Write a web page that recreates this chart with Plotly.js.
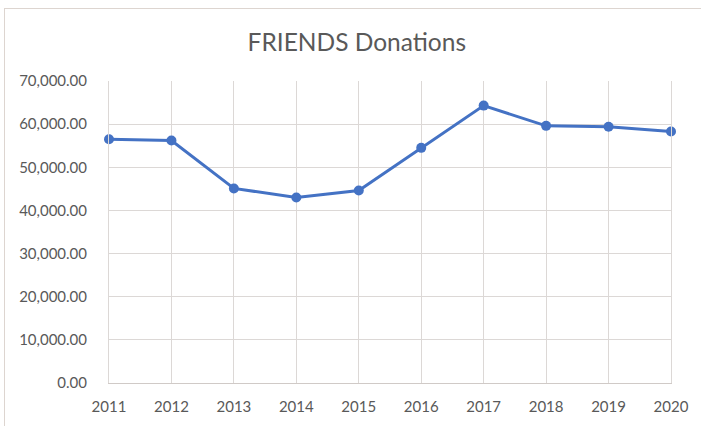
<!DOCTYPE html>
<html>
<head>
<meta charset="utf-8">
<script src="https://cdn.plot.ly/plotly-3.0.1.min.js"></script>
<style>
  html, body { margin: 0; padding: 0; background: #ffffff; }
  #frame { position: absolute; left: 4px; top: 8px; width: 697px; height: 418px;
           border-top: 1px solid #ddd5d0; border-left: 1px solid #ddd5d0; box-sizing: border-box; }
  #chart { position: absolute; left: 0; top: 0; width: 701px; height: 426px; }
</style>
</head>
<body>
<div id="frame"></div>
<div id="chart"></div>
<script>
const years = [2011, 2012, 2013, 2014, 2015, 2016, 2017, 2018, 2019, 2020];
const donations = [56500, 56200, 45100, 43000, 44600, 54500, 64300, 59600, 59400, 58300];
const chartTitle = "FRIENDS Donations";

const textColor = "#595959";
const gridColor = "#dcd8d6";
const fontFamily = "Lato, 'Open Sans', sans-serif";

const trace = {
  x: years,
  y: donations,
  type: "scatter",
  mode: "lines+markers",
  cliponaxis: false,
  line: { color: "#4472C4", width: 3 },
  marker: { color: "#4472C4", size: 10 },
  hoverinfo: "skip"
};

const layout = {
  width: 701,
  height: 426,
  paper_bgcolor: "rgba(0,0,0,0)",
  plot_bgcolor: "rgba(0,0,0,0)",
  margin: { l: 109, r: 30, t: 81, b: 43 },
  showlegend: false,
  font: { family: fontFamily, color: textColor, size: 15 },
  title: {
    text: chartTitle,
    font: { family: fontFamily, size: 24.5, color: textColor },
    xref: "container", x: 0.509, xanchor: "center",
    yref: "container", y: 0.901, yanchor: "middle"
  },
  xaxis: {
    range: [2011, 2020],
    tickmode: "array",
    tickvals: years,
    ticktext: years.map(String),
    showgrid: true,
    gridcolor: gridColor,
    gridwidth: 1,
    zeroline: false,
    showline: true,
    linecolor: "#d0cac7",
    linewidth: 1,
    ticks: "",
    ticklabelstandoff: 10,
    tickfont: { family: fontFamily, size: 15, color: textColor },
    fixedrange: true
  },
  yaxis: {
    range: [0, 70000],
    dtick: 10000,
    tick0: 0,
    tickformat: ",.2f",
    showgrid: true,
    gridcolor: gridColor,
    gridwidth: 1,
    zeroline: false,
    showline: true,
    mirror: true,
    linecolor: gridColor,
    linewidth: 1,
    ticks: "",
    ticklabelstandoff: 18,
    tickfont: { family: fontFamily, size: 15, color: textColor },
    fixedrange: true
  }
};

Plotly.newPlot("chart", [trace], layout, { displayModeBar: false, staticPlot: true });
</script>
</body>
</html>
